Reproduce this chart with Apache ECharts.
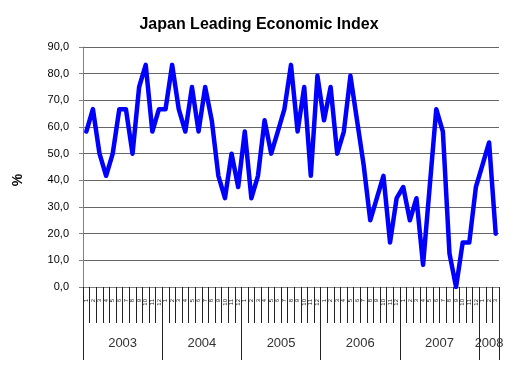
<!DOCTYPE html>
<html>
<head>
<meta charset="utf-8">
<script src="https://cdn.jsdelivr.net/npm/echarts@6/dist/echarts.min.js"></script>
<style>
html,body{margin:0;padding:0;background:#fff;}
#chart{width:518px;height:368px;}
</style>
</head>
<body>
<div id="chart"></div>
<script>
// ---- data ----
const years = [2003, 2004, 2005, 2006, 2007, 2008];
const monthsPerYear = [12, 12, 12, 12, 12, 3];
const monthLabels = ['1','2','3','4','5','6','7','8','9','10','11','12'];
const values = [
  58.3, 66.7, 50.0, 41.7, 50.0, 66.7, 66.7, 50.0, 75.0, 83.3, 58.3, 66.7,
  66.7, 83.3, 66.7, 58.3, 75.0, 58.3, 75.0, 62.5, 41.7, 33.3, 50.0, 37.5,
  58.3, 33.3, 41.7, 62.5, 50.0, 58.3, 66.7, 83.3, 58.3, 75.0, 41.7, 79.2,
  62.5, 75.0, 50.0, 58.3, 79.2, 62.5, 45.8, 25.0, 33.3, 41.7, 16.7, 33.3,
  37.5, 25.0, 33.3, 8.3, 37.5, 66.7, 58.3, 12.5, 0.0, 16.7, 16.7, 37.5,
  45.8, 54.2, 20.0
];
const yTicks = [0, 10, 20, 30, 40, 50, 60, 70, 80, 90];

// ---- derived ----
const categories = [];
const yearStarts = [];
let idx = 0;
years.forEach((y, k) => {
  yearStarts.push(idx);
  for (let m = 0; m < monthsPerYear[k]; m++) {
    categories.push(y + '-' + monthLabels[m]);
    idx++;
  }
});
const total = idx;
const yearTickPos = yearStarts.concat([total]);
const yearLabelPos = years.map((y, k) => yearStarts[k] + monthsPerYear[k] / 2);

function yearFor(v) {
  for (let k = years.length - 1; k >= 0; k--) {
    if (v >= yearStarts[k]) return String(years[k]);
  }
  return '';
}

const chart = echarts.init(document.getElementById('chart'), null, {renderer: 'canvas'});
const font = 'Liberation Sans, Arial, sans-serif';
chart.setOption({
  animation: false,
  backgroundColor: '#ffffff',
  textStyle: {fontFamily: font},
  title: {
    text: 'Japan Leading Economic Index',
    left: 'center',
    top: 12,
    textStyle: {fontFamily: font, fontSize: 16, fontWeight: 'bold', color: '#000'}
  },
  grid: {left: 83, right: 19, top: 47, bottom: 81, containLabel: false},
  xAxis: [
    {
      type: 'category',
      data: categories,
      boundaryGap: true,
      axisLine: {show: true, lineStyle: {color: '#808080', width: 1}},
      axisTick: {show: true, interval: 0, length: 36, lineStyle: {color: '#222', width: 1}},
      axisLabel: {
        interval: 0, rotate: 90, fontSize: 6, margin: 12, color: '#222',
        hideOverlap: false,
        formatter: v => v.split('-')[1]
      },
      splitLine: {show: false}
    },
    {
      type: 'value',
      min: 0,
      max: total,
      position: 'bottom',
      axisLine: {show: false},
      splitLine: {show: false},
      axisTick: {show: true, customValues: yearTickPos, length: 73, lineStyle: {color: '#222', width: 1}},
      axisLabel: {
        show: true, customValues: yearLabelPos, margin: 50, fontSize: 13, color: '#333',
        fontFamily: font,
        formatter: v => yearFor(v)
      }
    }
  ],
  yAxis: {
    type: 'value',
    min: yTicks[0],
    max: yTicks[yTicks.length - 1],
    interval: 10,
    axisLine: {show: true, lineStyle: {color: '#808080', width: 1}},
    axisTick: {show: true, length: 4, lineStyle: {color: '#808080'}},
    splitLine: {show: true, lineStyle: {color: '#666', width: 1}},
    axisLabel: {
      fontSize: 11, margin: 14, color: '#000', fontFamily: font,
      formatter: v => v.toFixed(1).replace('.', ',')
    },
    name: '%',
    nameLocation: 'middle',
    nameGap: 58,
    nameRotate: 90,
    nameTextStyle: {fontWeight: 'bold', fontSize: 14, color: '#000', fontFamily: font, padding: [0, 26, 0, 0]}
  },
  series: [{
    type: 'line',
    xAxisIndex: 0,
    data: values,
    showSymbol: false,
    symbol: 'none',
    lineStyle: {color: '#0000FF', width: 4.5, join: 'round', cap: 'round'},
    itemStyle: {color: '#0000FF'}
  }]
});
</script>
</body>
</html>
